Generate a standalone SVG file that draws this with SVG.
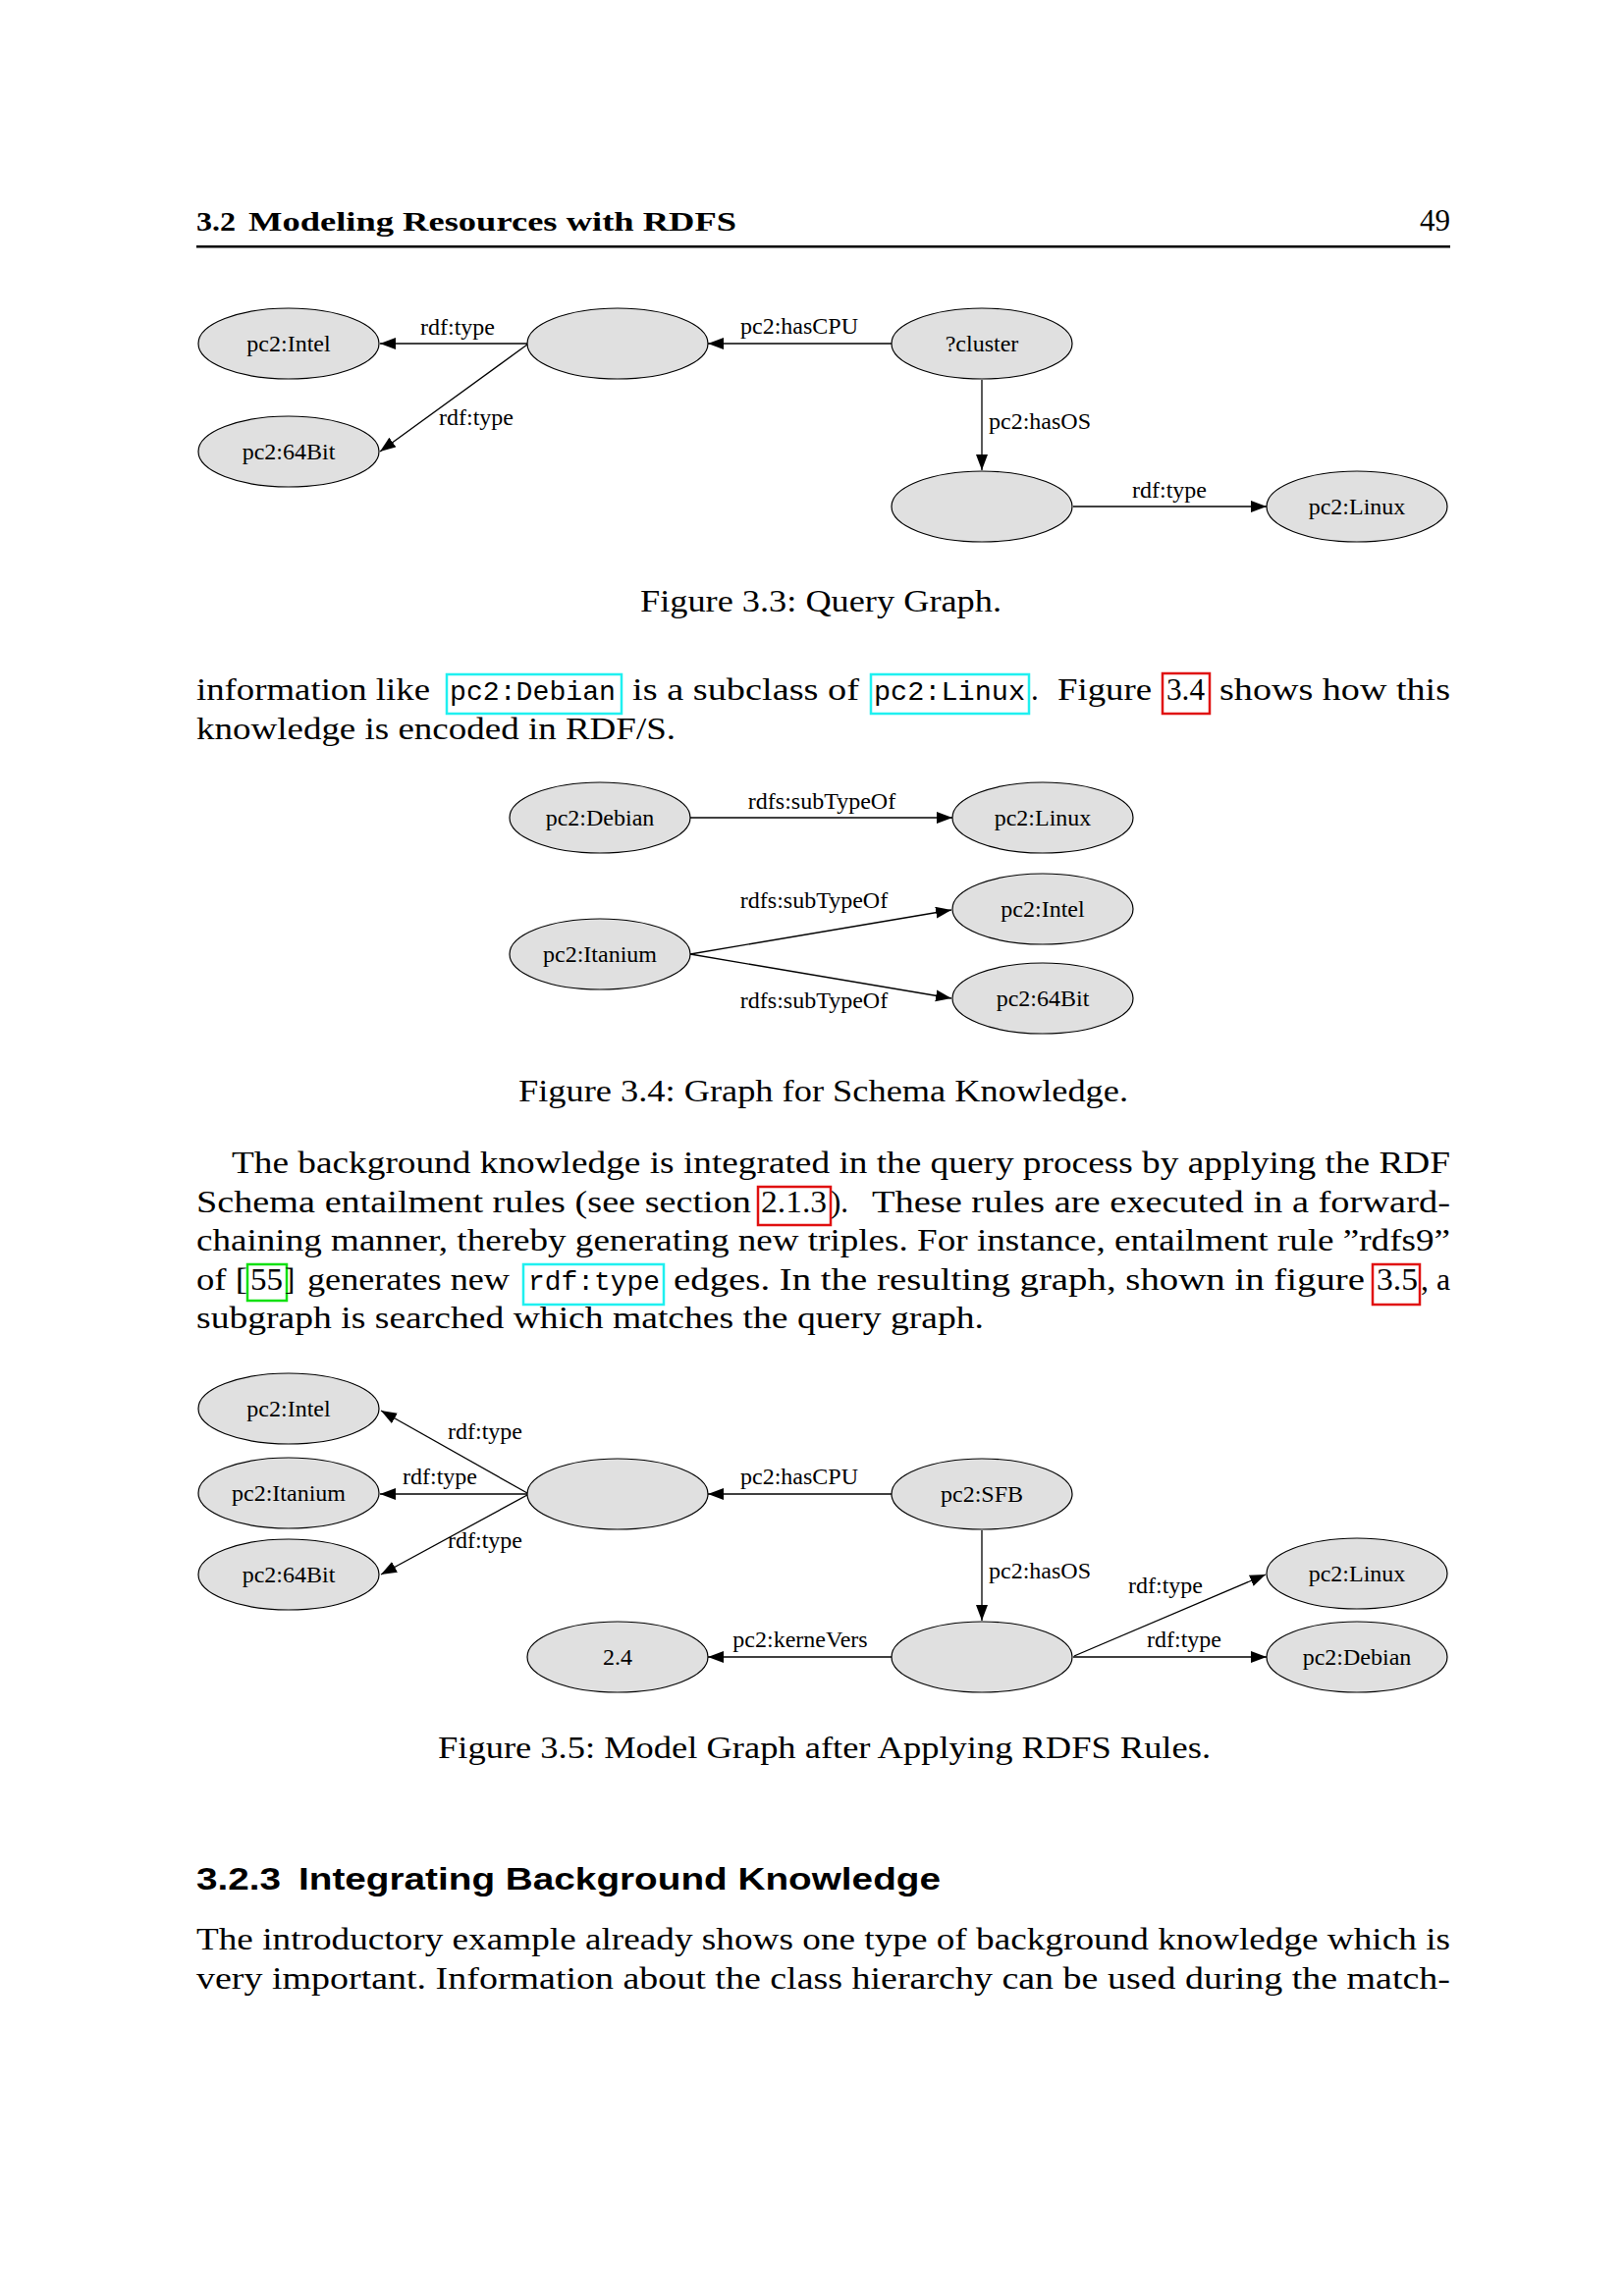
<svg xmlns="http://www.w3.org/2000/svg" width="1654" height="2339" viewBox="0 0 1654 2339">
<defs>
<style>
.node ellipse{fill:#e0e0e0;stroke:#000;stroke-width:1.2}
.nl{font-family:"Liberation Serif",serif;font-size:24px;text-anchor:middle;fill:#000}
.el{font-family:"Liberation Serif",serif;font-size:24px;text-anchor:middle;fill:#000}
.edges line{stroke:#000;stroke-width:1.3;marker-end:url(#arr)}
.body{font-family:"Liberation Serif",serif;font-size:31px;fill:#000}
.mono{font-family:"Liberation Mono",monospace;font-size:28px;fill:#000}
.hdr{font-family:"Liberation Serif",serif;font-size:27px;font-weight:bold;fill:#000}
.sec{font-family:"Liberation Sans",sans-serif;font-size:31px;font-weight:bold;fill:#000}
.cyan{fill:none;stroke:#1ff0f0;stroke-width:2.5}
.red{fill:none;stroke:#e01010;stroke-width:2.5}
.green{fill:none;stroke:#10e010;stroke-width:2.5}
</style>
<marker id="arr" markerUnits="userSpaceOnUse" markerWidth="17" markerHeight="13" refX="16" refY="6" orient="auto">
<path d="M0,0 L16,6 L0,12 z" fill="#000"/>
</marker>
</defs>
<rect width="1654" height="2339" fill="#fff"/>

<!-- Header -->
<text class="hdr" x="200" y="235" textLength="40" lengthAdjust="spacingAndGlyphs">3.2</text>
<text class="hdr" x="253" y="235" textLength="497" lengthAdjust="spacingAndGlyphs">Modeling Resources with RDFS</text>
<text class="body" x="1477" y="235" text-anchor="end" font-size="29">49</text>
<rect x="200" y="250" width="1277" height="2.5" fill="#000"/>

<!-- Figure 3.3 -->
<g id="fig33-edges" class="edges">
<line x1="537" y1="350" x2="387" y2="350"/>
<line x1="537" y1="351" x2="387" y2="460"/>
<line x1="908" y1="350" x2="721" y2="350"/>
<line x1="1000" y1="387" x2="1000" y2="479"/>
<line x1="1093" y1="516" x2="1290" y2="516"/>
</g>
<g id="fig33-edge-labels">
<text class="el" x="466" y="341">rdf:type</text>
<text class="el" x="485" y="433">rdf:type</text>
<text class="el" x="814" y="340">pc2:hasCPU</text>
<text class="el" x="1059" y="437">pc2:hasOS</text>
<text class="el" x="1191" y="507">rdf:type</text>
</g>
<g id="q-intel" class="node"><ellipse cx="294" cy="350" rx="92" ry="36"/><text class="nl" x="294" y="358">pc2:Intel</text></g>
<g id="q-64bit" class="node"><ellipse cx="294" cy="460" rx="92" ry="36"/><text class="nl" x="294" y="468">pc2:64Bit</text></g>
<g id="q-cpu" class="node"><ellipse cx="629" cy="350" rx="92" ry="36"/></g>
<g id="q-cluster" class="node"><ellipse cx="1000" cy="350" rx="92" ry="36"/><text class="nl" x="1000" y="358">?cluster</text></g>
<g id="q-os" class="node"><ellipse cx="1000" cy="516" rx="92" ry="36"/></g>
<g id="q-linux" class="node"><ellipse cx="1382" cy="516" rx="92" ry="36"/><text class="nl" x="1382" y="524">pc2:Linux</text></g>

<text class="body" x="652" y="623" textLength="368" lengthAdjust="spacingAndGlyphs">Figure 3.3: Query Graph.</text>

<!-- Paragraph 1 -->
<rect class="cyan" x="455" y="687" width="178" height="40"/>
<rect class="cyan" x="887" y="687" width="161" height="40"/>
<rect class="red" x="1184" y="686" width="48" height="41"/>
<text class="body" x="200" y="713" textLength="238" lengthAdjust="spacingAndGlyphs">information like</text>
<text class="mono" x="458" y="713" textLength="169" lengthAdjust="spacingAndGlyphs">pc2:Debian</text>
<text class="body" x="644" y="713" textLength="231" lengthAdjust="spacingAndGlyphs">is a subclass of</text>
<text class="mono" x="890" y="713" textLength="154" lengthAdjust="spacingAndGlyphs">pc2:Linux</text>
<text class="body" x="1050" y="713">.</text>
<text class="body" x="1077" y="713" textLength="96" lengthAdjust="spacingAndGlyphs">Figure</text>
<text class="body" x="1188" y="713" textLength="39" lengthAdjust="spacingAndGlyphs">3.4</text>
<text class="body" x="1242" y="713" textLength="235" lengthAdjust="spacingAndGlyphs">shows how this</text>
<text class="body" x="200" y="753" textLength="488" lengthAdjust="spacingAndGlyphs">knowledge is encoded in RDF/S.</text>

<!-- Figure 3.4 -->
<g id="fig34-edges" class="edges">
<line x1="703" y1="833" x2="970" y2="833"/>
<line x1="703" y1="972" x2="969" y2="927"/>
<line x1="703" y1="972" x2="969" y2="1017"/>
</g>
<g id="fig34-edge-labels">
<text class="el" x="837" y="824">rdfs:subTypeOf</text>
<text class="el" x="829" y="925">rdfs:subTypeOf</text>
<text class="el" x="829" y="1027">rdfs:subTypeOf</text>
</g>
<g id="s-debian" class="node"><ellipse cx="611" cy="833" rx="92" ry="36"/><text class="nl" x="611" y="841">pc2:Debian</text></g>
<g id="s-linux" class="node"><ellipse cx="1062" cy="833" rx="92" ry="36"/><text class="nl" x="1062" y="841">pc2:Linux</text></g>
<g id="s-intel" class="node"><ellipse cx="1062" cy="926" rx="92" ry="36"/><text class="nl" x="1062" y="934">pc2:Intel</text></g>
<g id="s-itanium" class="node"><ellipse cx="611" cy="972" rx="92" ry="36"/><text class="nl" x="611" y="980">pc2:Itanium</text></g>
<g id="s-64bit" class="node"><ellipse cx="1062" cy="1017" rx="92" ry="36"/><text class="nl" x="1062" y="1025">pc2:64Bit</text></g>

<text class="body" x="528" y="1122" textLength="621" lengthAdjust="spacingAndGlyphs">Figure 3.4: Graph for Schema Knowledge.</text>

<!-- Paragraph 2 -->
<rect class="red" x="772" y="1209" width="74" height="39"/>
<rect class="green" x="252" y="1288" width="40" height="37"/>
<rect class="cyan" x="533" y="1288" width="143" height="41"/>
<rect class="red" x="1398" y="1288" width="48" height="41"/>
<text class="body" x="236" y="1195" textLength="1241" lengthAdjust="spacingAndGlyphs">The background knowledge is integrated in the query process by applying the RDF</text>
<text class="body" x="200" y="1234.5" textLength="565" lengthAdjust="spacingAndGlyphs">Schema entailment rules (see section</text>
<text class="body" x="775" y="1234.5" textLength="67" lengthAdjust="spacingAndGlyphs">2.1.3</text>
<text class="body" x="846" y="1234.5">).</text>
<text class="body" x="888" y="1234.5" textLength="589" lengthAdjust="spacingAndGlyphs">These rules are executed in a forward-</text>
<text class="body" x="200" y="1274" textLength="1277" lengthAdjust="spacingAndGlyphs">chaining manner, thereby generating new triples. For instance, entailment rule ”rdfs9”</text>
<text class="body" x="200" y="1313.5" textLength="52" lengthAdjust="spacingAndGlyphs">of [</text>
<text class="body" x="255" y="1313.5" textLength="33" lengthAdjust="spacingAndGlyphs">55</text>
<text class="body" x="290" y="1313.5">]</text>
<text class="body" x="313" y="1313.5" textLength="206" lengthAdjust="spacingAndGlyphs">generates new</text>
<text class="mono" x="538" y="1313.5" textLength="134" lengthAdjust="spacingAndGlyphs">rdf:type</text>
<text class="body" x="686" y="1313.5" textLength="704" lengthAdjust="spacingAndGlyphs">edges.  In the resulting graph, shown in figure</text>
<text class="body" x="1402" y="1313.5" textLength="42" lengthAdjust="spacingAndGlyphs">3.5</text>
<text class="body" x="1447" y="1313.5" textLength="30" lengthAdjust="spacingAndGlyphs">, a</text>
<text class="body" x="200" y="1353" textLength="802" lengthAdjust="spacingAndGlyphs">subgraph is searched which matches the query graph.</text>

<!-- Figure 3.5 -->
<g id="fig35-edges" class="edges">
<line x1="537" y1="1521" x2="388" y2="1437"/>
<line x1="537" y1="1522" x2="387" y2="1522"/>
<line x1="537" y1="1523" x2="388" y2="1604"/>
<line x1="908" y1="1522" x2="721" y2="1522"/>
<line x1="1000" y1="1559" x2="1000" y2="1651"/>
<line x1="908" y1="1688" x2="721" y2="1688"/>
<line x1="1094" y1="1687" x2="1289" y2="1604"/>
<line x1="1093" y1="1688" x2="1290" y2="1688"/>
</g>
<g id="fig35-edge-labels">
<text class="el" x="494" y="1466">rdf:type</text>
<text class="el" x="448" y="1512">rdf:type</text>
<text class="el" x="494" y="1577">rdf:type</text>
<text class="el" x="814" y="1512">pc2:hasCPU</text>
<text class="el" x="1059" y="1608">pc2:hasOS</text>
<text class="el" x="815" y="1678">pc2:kerneVers</text>
<text class="el" x="1187" y="1623">rdf:type</text>
<text class="el" x="1206" y="1678">rdf:type</text>
</g>
<g id="m-intel" class="node"><ellipse cx="294" cy="1435" rx="92" ry="36"/><text class="nl" x="294" y="1443">pc2:Intel</text></g>
<g id="m-itanium" class="node"><ellipse cx="294" cy="1521" rx="92" ry="36"/><text class="nl" x="294" y="1529">pc2:Itanium</text></g>
<g id="m-64bit" class="node"><ellipse cx="294" cy="1604" rx="92" ry="36"/><text class="nl" x="294" y="1612">pc2:64Bit</text></g>
<g id="m-cpu" class="node"><ellipse cx="629" cy="1522" rx="92" ry="36"/></g>
<g id="m-sfb" class="node"><ellipse cx="1000" cy="1522" rx="92" ry="36"/><text class="nl" x="1000" y="1530">pc2:SFB</text></g>
<g id="m-os" class="node"><ellipse cx="1000" cy="1688" rx="92" ry="36"/></g>
<g id="m-24" class="node"><ellipse cx="629" cy="1688" rx="92" ry="36"/><text class="nl" x="629" y="1696">2.4</text></g>
<g id="m-linux" class="node"><ellipse cx="1382" cy="1603" rx="92" ry="36"/><text class="nl" x="1382" y="1611">pc2:Linux</text></g>
<g id="m-debian" class="node"><ellipse cx="1382" cy="1688" rx="92" ry="36"/><text class="nl" x="1382" y="1696">pc2:Debian</text></g>

<text class="body" x="446" y="1791" textLength="787" lengthAdjust="spacingAndGlyphs">Figure 3.5: Model Graph after Applying RDFS Rules.</text>

<!-- Section -->
<text class="sec" x="200" y="1925" textLength="86" lengthAdjust="spacingAndGlyphs">3.2.3</text>
<text class="sec" x="304" y="1925" textLength="654" lengthAdjust="spacingAndGlyphs">Integrating Background Knowledge</text>
<text class="body" x="200" y="1986" textLength="1277" lengthAdjust="spacingAndGlyphs">The introductory example already shows one type of background knowledge which is</text>
<text class="body" x="200" y="2026" textLength="1277" lengthAdjust="spacingAndGlyphs">very important.  Information about the class hierarchy can be used during the match-</text>
</svg>
